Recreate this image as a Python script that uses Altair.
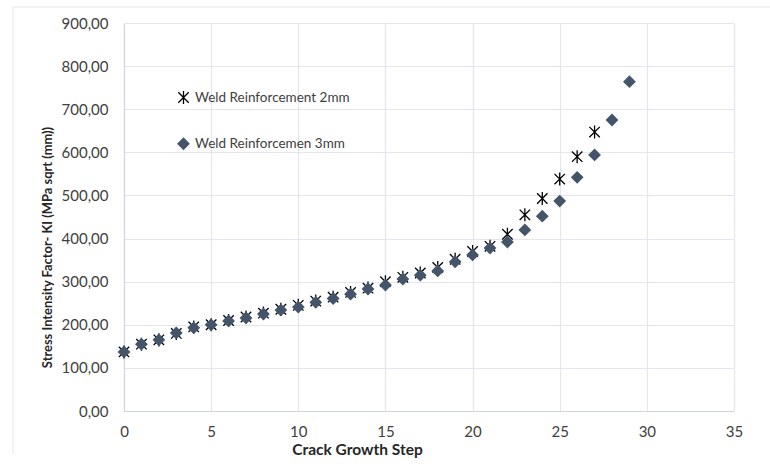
import altair as alt
import pandas as pd

steps_2mm = list(range(0, 28))
ki_2mm = [137, 155, 165, 180, 195, 200, 210, 218, 227, 236, 245, 255, 264, 275,
          285, 300, 310, 320, 333, 352, 370, 382, 410, 455, 493, 538, 590, 647]

steps_3mm = list(range(0, 30))
ki_3mm = [137, 155, 165, 181, 193, 200, 209, 216, 225, 234, 241, 252, 261, 271,
          283, 292, 306, 315, 325, 346, 362, 378, 392, 420, 452, 487, 542, 594,
          675, 764]

series_names = ["Weld Reinforcement 2mm", "Weld Reinforcemen 3mm"]

rows = []
for s, v in zip(steps_2mm, ki_2mm):
    rows.append({"step": s, "ki": v, "series": series_names[0]})
for s, v in zip(steps_3mm, ki_3mm):
    rows.append({"step": s, "ki": v, "series": series_names[1]})
df = pd.DataFrame(rows)

FONT = "Lato"
ASTERISK = "M-0.8,-0.8L0.8,0.8M-0.8,0.8L0.8,-0.8M0,-1L0,1"
NAVY = "#44546A"

leg = alt.Legend(orient="none", legendX=52, legendY=67, title=None,
                 labelFont=FONT, labelFontSize=13.5, labelColor="#404040",
                 rowPadding=28, labelOffset=4, symbolStrokeWidth=1.3)

points = alt.Chart(df).mark_point(filled=True, strokeWidth=1.3, opacity=1).encode(
    x=alt.X("step:Q", scale=alt.Scale(domain=[0, 35], nice=False),
            axis=alt.Axis(values=[0, 5, 10, 15, 20, 25, 30, 35], title="Crack Growth Step",
                          titleX=233, titleY=38, titleBaseline="middle", titleAlign="center")),
    y=alt.Y("ki:Q", scale=alt.Scale(domain=[0, 900], nice=False),
            axis=alt.Axis(values=list(range(0, 901, 100)),
                          labelExpr="replace(format(datum.value, '.2f'), '.', ',')",
                          title="Stress Intensity Factor- KI (MPa sqrt (mm))",
                          titleX=-77, titleY=224, titleAngle=-90, titleBaseline="middle",
                          titleAlign="center")),
    shape=alt.Shape("series:N", scale=alt.Scale(domain=series_names, range=[ASTERISK, "diamond"]),
                    legend=leg),
    fill=alt.Fill("series:N", scale=alt.Scale(domain=series_names, range=["#000000", NAVY]),
                  legend=leg),
    stroke=alt.Stroke("series:N", scale=alt.Scale(domain=series_names, range=["#000000", NAVY]),
                      legend=leg),
    size=alt.Size("series:N", scale=alt.Scale(domain=series_names, range=[170, 120]),
                  legend=leg),
)

frame_df = pd.DataFrame({"a": [0]})
top_line = alt.Chart(frame_df).mark_rule(color="#E6E6E6", strokeWidth=1).encode(
    x=alt.value(-111), x2=alt.value(646), y=alt.value(-16))
left_line = alt.Chart(frame_df).mark_rule(color="#E6E6E6", strokeWidth=1).encode(
    x=alt.value(-111), y=alt.value(-16), y2=alt.value(431))

chart = alt.layer(top_line, left_line, points).properties(
    width=610, height=388,
    background="white",
    autosize=alt.AutoSizeParams(type="none"),
    padding={"left": 124, "top": 23, "right": 36, "bottom": 53},
).configure_view(
    stroke=None
).configure_axis(
    grid=True, gridColor="#E3E6EE", gridWidth=1.2,
    domainColor="#CDD5E0", domainWidth=1.2,
    ticks=False,
    labelFont=FONT, labelFontSize=15, labelColor="#404040",
    titleFont=FONT, titleFontWeight="bold", titleColor="#262626",
).configure_axisY(
    labelPadding=16, titleFontSize=12.9,
).configure_axisX(
    labelPadding=13, titleFontSize=15.5, labelFlush=False,
)

chart.save("out.html", embed_options={"renderer": "svg", "actions": False})
